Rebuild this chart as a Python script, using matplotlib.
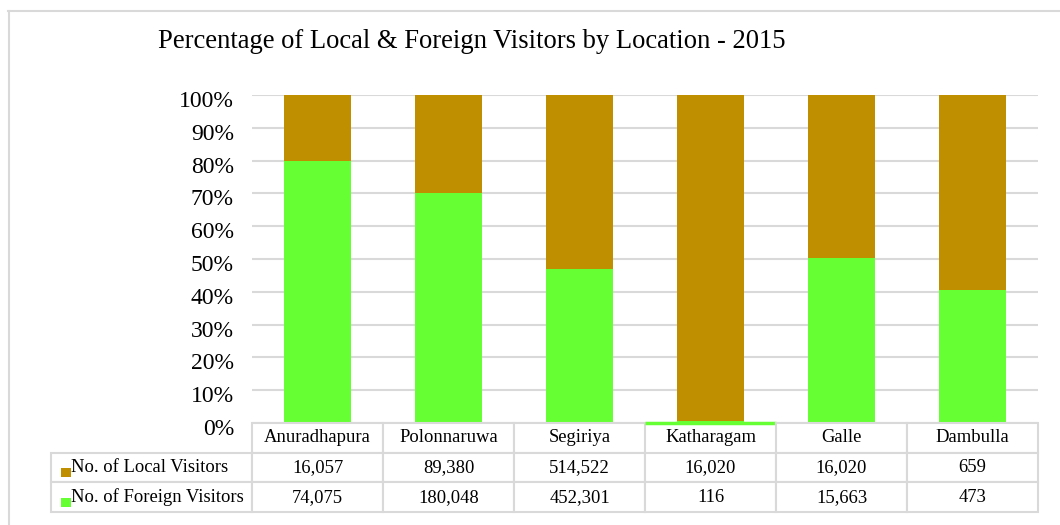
import matplotlib
matplotlib.use("Agg")
import matplotlib.pyplot as plt
import matplotlib.transforms as mtransforms
from matplotlib.table import Table
from matplotlib.patches import Rectangle
from matplotlib.lines import Line2D

plt.rcParams['font.family'] = ['Liberation Serif', 'DejaVu Serif']

# data
locations = ["Anuradhapura", "Polonnaruwa", "Segiriya", "Katharagam", "Galle", "Dambulla"]
local_visitors = ["16,057", "89,380", "514,522", "16,020", "16,020", "659"]
foreign_visitors = ["74,075", "180,048", "452,301", "116", "15,663", "473"]
# bar heights as drawn (percent foreign), the rest is local
foreign_pct = [80.0, 70.0, 47.0, 0.5, 50.2, 40.7]
local_pct = [100 - p for p in foreign_pct]

green = "#66FF33"
brown = "#BF8F00"
grid_c = "#D9D9D9"

W, H = 1060, 525
fig = plt.figure(figsize=(W / 100, H / 100), dpi=100)
ax = fig.add_axes([252 / W, 1 - 423 / H, 786 / W, 328 / H])

x = list(range(len(locations)))
ax.bar(x, foreign_pct, width=0.51, color=green, zorder=2)
ax.bar(x, local_pct, bottom=foreign_pct, width=0.51, color=brown, zorder=2)

ax.set_xlim(-0.5, len(locations) - 0.5)
ax.set_ylim(0, 100)
ax.set_yticks(range(0, 101, 10))
ax.set_yticklabels([f"{v}%" for v in range(0, 101, 10)], fontsize=17)
ax.set_xticks([])
ax.tick_params(axis='y', length=0, pad=13)
for s in ax.spines.values():
    s.set_visible(False)
ax.yaxis.grid(True, color=grid_c, linewidth=1.5)
ax.set_axisbelow(True)

# nudge y labels down a little like the original
off = mtransforms.ScaledTranslation(0, -0.04, fig.dpi_scale_trans)
for lab in ax.get_yticklabels():
    lab.set_transform(lab.get_transform() + off)

# data table under the bars (bbox covers the data columns only)
tbl = Table(ax, bbox=[0, -89 / 328, 1, 89 / 328])
cw = 131 / 786
rw = 201 / 786
rh = 89 / 328 / 3
for j, name in enumerate(locations):
    c = tbl.add_cell(0, j, width=cw, height=rh, text=name, loc='center')
    c.set_edgecolor(grid_c)
    c.set_linewidth(1.5)
row_labels = ["No. of Local Visitors", "No. of Foreign Visitors"]
for i, (lab, vals) in enumerate(zip(row_labels, [local_visitors, foreign_visitors]), start=1):
    c = tbl.add_cell(i, -1, width=rw, height=rh, text=lab, loc='left')
    c.set_edgecolor(grid_c)
    c.set_linewidth(1.5)
    for j, v in enumerate(vals):
        c = tbl.add_cell(i, j, width=cw, height=rh, text=v, loc='center')
        c.set_edgecolor(grid_c)
        c.set_linewidth(1.5)
# Katharagam header top edge shows green in the original
kc = tbl[0, 3]
kc.visible_edges = 'T'
kc.set_edgecolor(green)
kc.set_linewidth(2.5)
tbl.auto_set_font_size(False)
tbl.set_fontsize(13.4)
tbl.set_zorder(3)
ax.add_table(tbl)

# legend keys in the row labels
for k, col in enumerate([brown, green]):
    y0 = (423 - 477 - 30 * k) / 328
    ax.add_patch(Rectangle((-191 / 786, y0), 10 / 786, 9 / 328, transform=ax.transAxes,
                           facecolor=col, edgecolor='none', clip_on=False, zorder=4))

fig.text(158 / W, 1 - 42 / H, "Percentage of Local & Foreign Visitors by Location - 2015",
         fontsize=19.2, ha='left', va='center')

# chart frame (top and left edges visible)
fig.add_artist(Line2D([8 / W, 1], [1 - 11 / H, 1 - 11 / H], color=grid_c, linewidth=1.5))
fig.add_artist(Line2D([8.5 / W, 8.5 / W], [0, 1 - 11 / H], color=grid_c, linewidth=1.5))

fig.savefig("out.png", dpi=100)
